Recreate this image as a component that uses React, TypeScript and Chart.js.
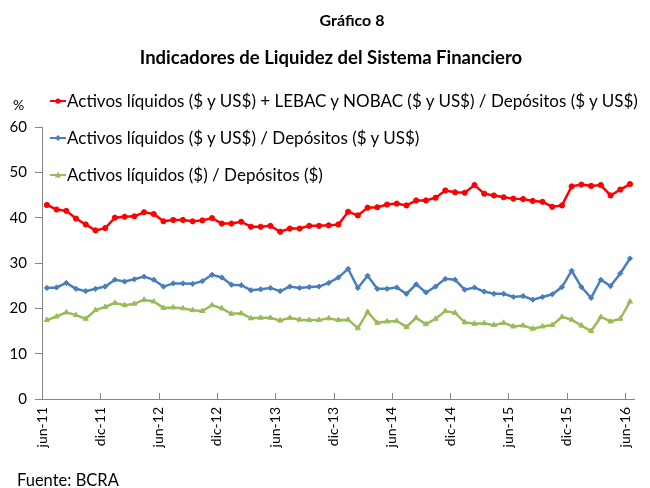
import React, { useEffect, useRef } from 'react';
import { Chart, registerables } from 'chart.js';

Chart.register(...registerables);

const MONTHS: string[] = [
  'jun-11', 'jul-11', 'ago-11', 'sep-11', 'oct-11', 'nov-11', 'dic-11',
  'ene-12', 'feb-12', 'mar-12', 'abr-12', 'may-12', 'jun-12', 'jul-12', 'ago-12', 'sep-12', 'oct-12', 'nov-12', 'dic-12',
  'ene-13', 'feb-13', 'mar-13', 'abr-13', 'may-13', 'jun-13', 'jul-13', 'ago-13', 'sep-13', 'oct-13', 'nov-13', 'dic-13',
  'ene-14', 'feb-14', 'mar-14', 'abr-14', 'may-14', 'jun-14', 'jul-14', 'ago-14', 'sep-14', 'oct-14', 'nov-14', 'dic-14',
  'ene-15', 'feb-15', 'mar-15', 'abr-15', 'may-15', 'jun-15', 'jul-15', 'ago-15', 'sep-15', 'oct-15', 'nov-15', 'dic-15',
  'ene-16', 'feb-16', 'mar-16', 'abr-16', 'may-16', 'jun-16',
];

const TICK_LABELS: string[] = ['jun-11', 'dic-11', 'jun-12', 'dic-12', 'jun-13', 'dic-13', 'jun-14', 'dic-14', 'jun-15', 'dic-15', 'jun-16'];

const Y_TICKS: number[] = [0, 10, 20, 30, 40, 50, 60];

const SERIES_NAMES: string[] = [
  'Activos líquidos ($ y US$) + LEBAC y NOBAC ($ y US$) / Depósitos ($ y US$)',
  'Activos líquidos ($ y US$) / Depósitos ($ y US$)',
  'Activos líquidos ($) / Depósitos ($)',
];

const RED_VALUES: number[] = [
  42.8, 41.8, 41.5, 39.8, 38.5, 37.2, 37.7, 40.0, 40.2, 40.3, 41.2, 40.8,
  39.2, 39.5, 39.5, 39.2, 39.4, 39.9, 38.7, 38.7, 39.1, 38.0, 38.0, 38.2,
  36.9, 37.6, 37.6, 38.2, 38.2, 38.3, 38.5, 41.3, 40.5, 42.2, 42.3, 42.9,
  43.1, 42.7, 43.8, 43.8, 44.4, 46.0, 45.6, 45.5, 47.2, 45.3, 44.9, 44.5,
  44.2, 44.1, 43.7, 43.5, 42.4, 42.7, 46.9, 47.3, 47.0, 47.2, 44.9, 46.2,
  47.4,
];

const BLUE_VALUES: number[] = [
  24.5, 24.6, 25.6, 24.3, 23.8, 24.3, 24.8, 26.3, 25.9, 26.4, 27.0, 26.3,
  24.8, 25.5, 25.5, 25.4, 26.0, 27.4, 26.8, 25.2, 25.1, 24.0, 24.2, 24.5,
  23.8, 24.8, 24.5, 24.7, 24.8, 25.6, 26.8, 28.7, 24.5, 27.2, 24.3, 24.3,
  24.6, 23.2, 25.3, 23.5, 24.8, 26.5, 26.3, 24.1, 24.6, 23.7, 23.2, 23.2,
  22.5, 22.7, 21.9, 22.5, 23.1, 24.7, 28.3, 24.7, 22.3, 26.3, 24.9, 27.7,
  31.0,
];

const GREEN_VALUES: number[] = [
  17.4, 18.2, 19.1, 18.5, 17.7, 19.6, 20.3, 21.2, 20.7, 21.0, 21.9, 21.5,
  20.1, 20.2, 20.0, 19.6, 19.4, 20.7, 20.0, 18.8, 18.9, 17.8, 17.9, 17.9,
  17.3, 17.9, 17.5, 17.4, 17.4, 17.8, 17.4, 17.5, 15.6, 19.2, 16.8, 17.1,
  17.2, 15.9, 17.9, 16.5, 17.7, 19.4, 19.0, 16.9, 16.6, 16.7, 16.3, 16.8,
  16.0, 16.2, 15.5, 16.0, 16.3, 18.1, 17.5, 16.2, 15.0, 18.1, 17.1, 17.7,
  21.5,
];

const RED = '#FF0000';
const BLUE = '#4A7EBB';
const GREEN = '#9BBB59';
const AXIS = '#868686';
const FONT = 'Lato, "Open Sans", sans-serif';

const toPoints = (vals: number[]) => vals.map((v, i) => ({ x: i + 0.5, y: v }));

const innerXTicks = {
  id: 'innerXTicks',
  afterDraw(chart: any) {
    const s = chart.scales.x;
    const ctx = chart.ctx;
    const bottom = chart.chartArea.bottom;
    ctx.save();
    ctx.strokeStyle = AXIS;
    ctx.lineWidth = 1;
    s.ticks.forEach((t: any) => {
      const px = Math.round(s.getPixelForValue(t.value)) + 0.5;
      ctx.beginPath();
      ctx.moveTo(px, bottom);
      ctx.lineTo(px, bottom - 6);
      ctx.stroke();
    });
    ctx.restore();
  },
};

function LegendMarker({ color, shape }: { color: string; shape: string }) {
  let marker: React.ReactNode = null;
  if (shape === 'circle') marker = <circle cx={8} cy={6} r={2.6} fill={color} />;
  if (shape === 'diamond') marker = <polygon points="8,3 11,6 8,9 5,6" fill={color} />;
  if (shape === 'triangle') marker = <polygon points="8,2.5 11,8.5 5,8.5" fill={color} />;
  return (
    <svg width={16} height={12} style={{ display: 'block', marginRight: 1 }}>
      <line x1={0} y1={6} x2={16} y2={6} stroke={color} strokeWidth={2} />
      {marker}
    </svg>
  );
}

export default function App() {
  const ref = useRef<HTMLCanvasElement | null>(null);

  useEffect(() => {
    if (!ref.current) return;
    Chart.defaults.font.family = FONT;
    Chart.defaults.color = '#000';
    const ds = (label: string, vals: number[], color: string, style: any, r: number) => ({
      label,
      data: toPoints(vals),
      borderColor: color,
      backgroundColor: color,
      borderWidth: 2.5,
      pointStyle: style,
      pointRadius: r,
      pointBorderWidth: 1,
      pointBorderColor: color,
      pointBackgroundColor: color,
      tension: 0,
    });
    const chart = new Chart(ref.current, {
      type: 'line',
      data: {
        datasets: [
          ds(SERIES_NAMES[0], RED_VALUES, RED, 'circle', 2.6),
          ds(SERIES_NAMES[1], BLUE_VALUES, BLUE, 'rectRot', 2.6),
          ds(SERIES_NAMES[2], GREEN_VALUES, GREEN, 'triangle', 3),
        ],
      },
      options: {
        animation: false,
        responsive: false,
        devicePixelRatio: 1,
        layout: { padding: { top: 127, right: 3, left: 0, bottom: 0 } },
        plugins: { legend: { display: false }, title: { display: false }, tooltip: { enabled: false } },
        scales: {
          x: {
            type: 'linear',
            min: 0,
            max: MONTHS.length,
            afterBuildTicks: (scale: any) => {
              scale.ticks = TICK_LABELS.map((lab) => ({ value: MONTHS.indexOf(lab) }));
            },
            afterFit: (scale: any) => {
              scale.height = 89;
            },
            grid: { display: false, drawTicks: false },
            border: { display: true, color: AXIS, width: 1 },
            ticks: {
              autoSkip: false,
              maxRotation: 90,
              minRotation: 90,
              padding: 8,
              font: { size: 14 },
              color: '#000',
              callback: (v: any) => MONTHS[Math.round(Number(v))] ?? '',
            },
          },
          y: {
            min: Y_TICKS[0],
            max: Y_TICKS[Y_TICKS.length - 1],
            afterBuildTicks: (scale: any) => {
              scale.ticks = Y_TICKS.map((v) => ({ value: v }));
            },
            afterFit: (scale: any) => {
              scale.width = 42;
            },
            grid: { display: true, drawOnChartArea: false, drawTicks: true, tickLength: 7, color: AXIS },
            border: { display: true, color: AXIS, width: 1 },
            ticks: { padding: 8, font: { size: 15 }, color: '#000' },
          },
        },
      },
      plugins: [innerXTicks],
    });
    return () => chart.destroy();
  }, []);

  const text: React.CSSProperties = { position: 'absolute', fontFamily: FONT, color: '#000', whiteSpace: 'nowrap', lineHeight: '20px' };
  const rows = [
    { name: SERIES_NAMES[0], color: RED, shape: 'circle', top: 91 },
    { name: SERIES_NAMES[1], color: BLUE, shape: 'diamond', top: 128 },
    { name: SERIES_NAMES[2], color: GREEN, shape: 'triangle', top: 165 },
  ];

  return (
    <div style={{ position: 'absolute', left: 0, top: 0, width: 650, height: 488, background: '#fff', overflow: 'hidden' }}>
      <canvas ref={ref} width={650} height={488} style={{ display: 'block', width: 650, height: 488 }} />
      <div style={{ ...text, left: 152, width: 400, top: 10, textAlign: 'center', fontWeight: 700, fontSize: 16 }}>Gráfico 8</div>
      <div style={{ ...text, left: 131, width: 400, top: 47, textAlign: 'center', fontWeight: 700, fontSize: 18.5 }}>
        Indicadores de Liquidez del Sistema Financiero
      </div>
      <div style={{ ...text, left: 13, top: 95, fontSize: 14 }}>%</div>
      {rows.map((r) => (
        <div key={r.name} style={{ ...text, left: 50, top: r.top, display: 'flex', alignItems: 'center', fontSize: 17 }}>
          <LegendMarker color={r.color} shape={r.shape} />
          <span>{r.name}</span>
        </div>
      ))}
      <div style={{ ...text, left: 17, top: 470, fontSize: 16.5 }}>Fuente: BCRA</div>
    </div>
  );
}
